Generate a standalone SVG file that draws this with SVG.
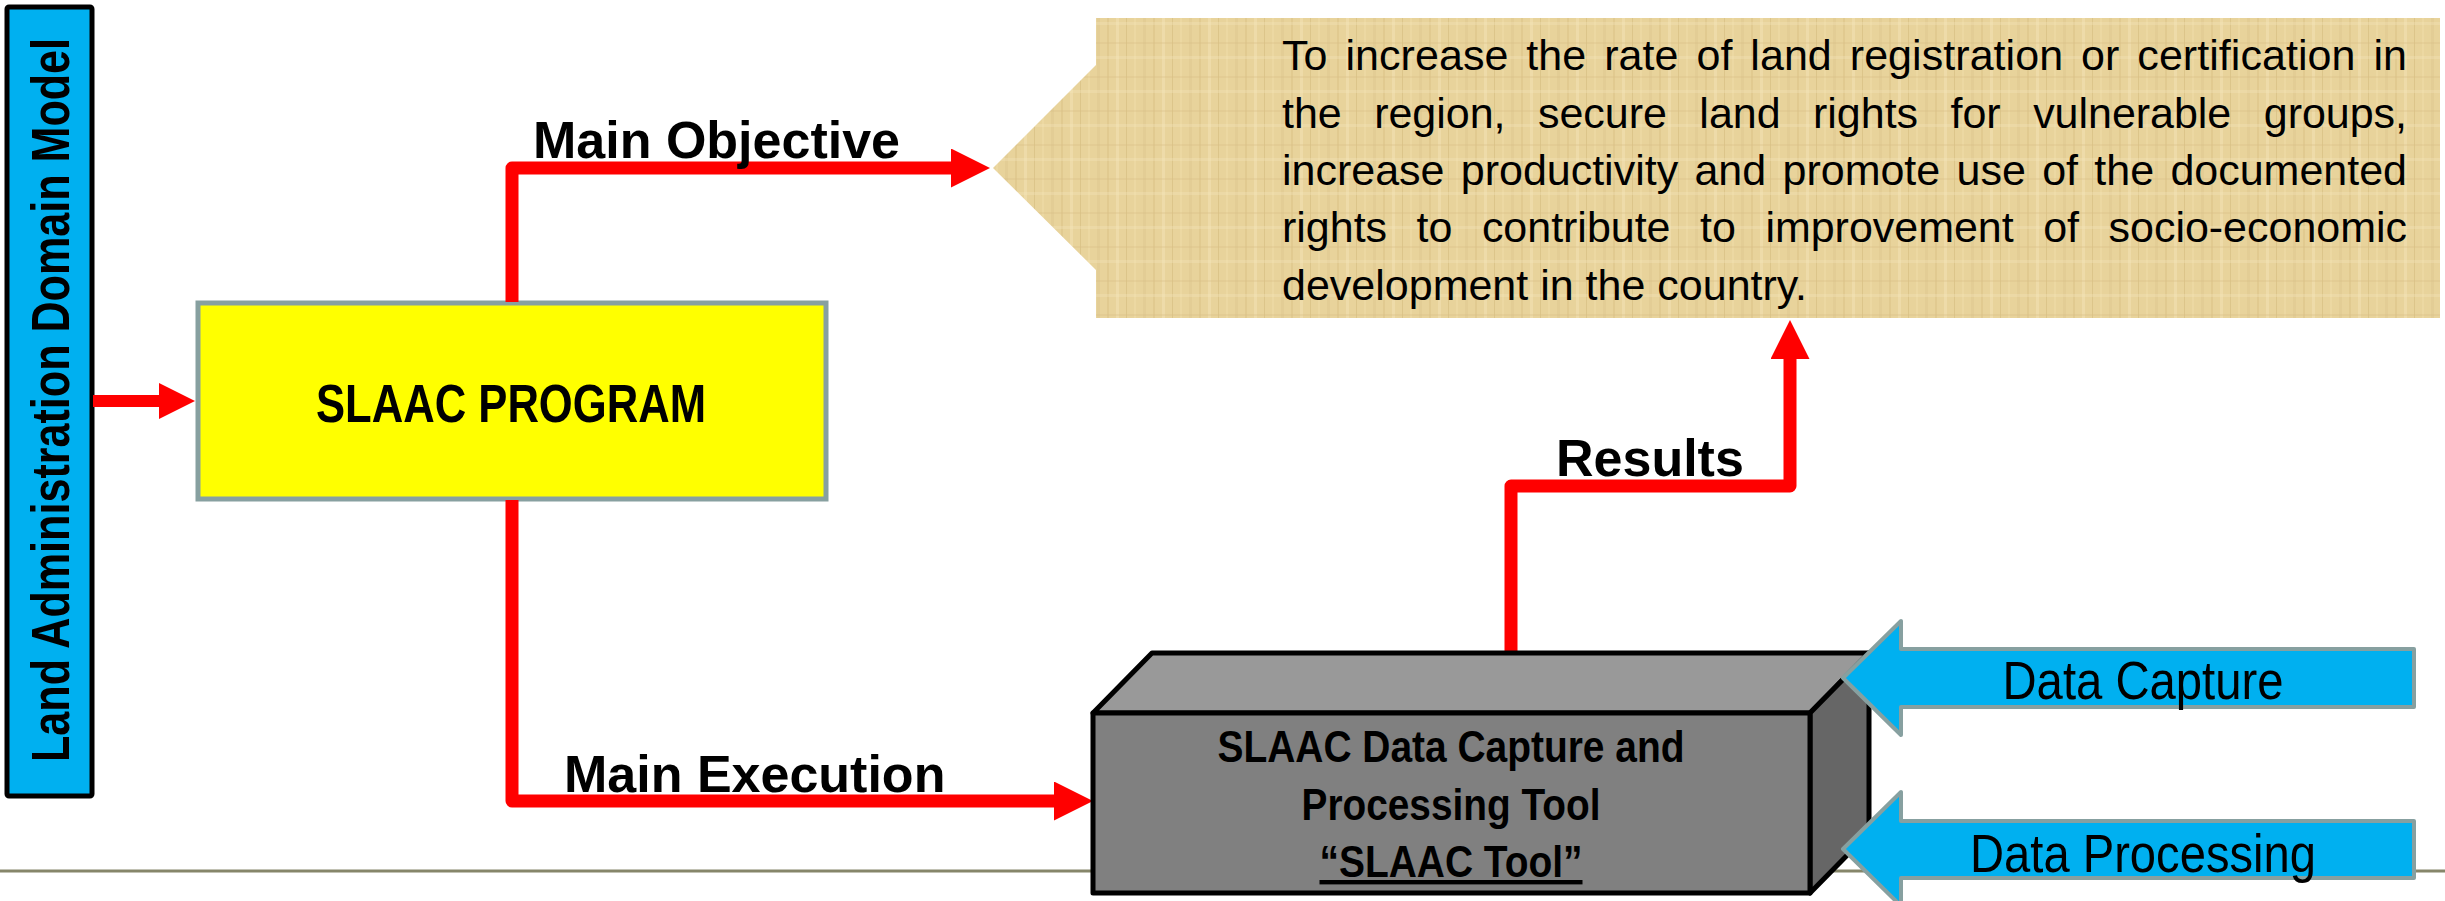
<svg xmlns="http://www.w3.org/2000/svg" width="2445" height="901" viewBox="0 0 2445 901">
<style>
text{font-family:"Liberation Sans",Arial,sans-serif;fill:#000}
.b{font-weight:bold}
.lbl{font-weight:bold;font-size:52px}
.con{fill:none;stroke:#FF0000;stroke-width:13;stroke-linejoin:round;marker-end:url(#ah)}
.para{font-size:43px}
.cyan{fill:#00B0F0;stroke:#87A0A0;stroke-width:4;stroke-linejoin:round}
.edge{stroke:#000;stroke-width:5;stroke-linejoin:round}
</style>
<defs>
<marker id="ah" viewBox="0 0 3 3" refX="0" refY="1.5" markerWidth="3" markerHeight="3" orient="auto" markerUnits="strokeWidth">
<path d="M0,0 L3,1.5 L0,3 z" fill="#FF0000"/>
</marker>
<pattern id="papyrus" width="46" height="34" patternUnits="userSpaceOnUse">
<rect width="46" height="34" fill="#E8D39B"/>
<rect x="3" width="2" height="34" fill="#D9BF82" opacity=".45"/>
<rect x="12" width="3" height="34" fill="#F2E2B4" opacity=".55"/>
<rect x="22" width="1" height="34" fill="#CFB475" opacity=".45"/>
<rect x="30" width="2" height="34" fill="#EFDDAA" opacity=".5"/>
<rect x="39" width="3" height="34" fill="#DCC48C" opacity=".4"/>
<rect y="8" width="46" height="2" fill="#D8BF84" opacity=".3"/>
<rect y="22" width="46" height="3" fill="#F3E4BA" opacity=".35"/>
</pattern>
</defs>
<rect width="2445" height="901" fill="#FFFFFF"/>
<line x1="0" y1="871" x2="2445" y2="871" stroke="#86866A" stroke-width="3"/>

<g id="ladm">
<rect x="7" y="7" width="85" height="789" rx="2" fill="#00B0F0" stroke="#000" stroke-width="5"/>
<text class="b" font-size="54" transform="translate(69,400) rotate(-90)" text-anchor="middle" textLength="724" lengthAdjust="spacingAndGlyphs">Land Administration Domain Model</text>
</g>

<g id="slaac-program">
<rect x="198" y="303" width="628" height="196" fill="#FFFF00" stroke="#87A0A0" stroke-width="5"/>
<text class="b" font-size="54" x="511" y="422" text-anchor="middle" textLength="390" lengthAdjust="spacingAndGlyphs">SLAAC PROGRAM</text>
</g>

<g id="objective">
<polygon points="1096,18 2440,18 2440,318 1096,318 1096,270 993,168 1096,65" fill="url(#papyrus)"/>
<text class="para" x="1282" y="70" word-spacing="5.9" textLength="1125" lengthAdjust="spacing">To increase the rate of land registration or certification in</text>
<text class="para" x="1282" y="128" word-spacing="20.6" textLength="1125" lengthAdjust="spacing">the region, secure land rights for vulnerable groups,</text>
<text class="para" x="1282" y="185" word-spacing="4.4" textLength="1125" lengthAdjust="spacing">increase productivity and promote use of the documented</text>
<text class="para" x="1282" y="242" word-spacing="17.6" textLength="1125" lengthAdjust="spacing">rights to contribute to improvement of socio-economic</text>
<text class="para" x="1282" y="300">development in the country.</text>
</g>

<g id="connectors">
<path d="M93,401 H159" stroke="#FF0000" stroke-width="12" fill="none" marker-end="url(#ah)"/>
<path class="con" d="M512,302 V168 H951"/>
<path class="con" d="M512,500 V801 H1054"/>
<path class="con" d="M1511,655 V486 H1790 V359"/>
<text class="lbl" x="533" y="158">Main Objective</text>
<text class="lbl" x="564" y="792">Main Execution</text>
<text class="lbl" x="1556" y="476">Results</text>
</g>

<g id="slaac-tool">
<polygon class="edge" points="1093,713 1152,653 1869,653 1810,713" fill="#999999"/>
<polygon class="edge" points="1810,713 1869,653 1869,833 1810,893" fill="#666666"/>
<rect class="edge" x="1093" y="713" width="717" height="180" fill="#808080"/>
<text class="b" font-size="44" x="1451" y="762" text-anchor="middle" textLength="467" lengthAdjust="spacingAndGlyphs">SLAAC Data Capture and</text>
<text class="b" font-size="44" x="1451" y="820" text-anchor="middle" textLength="299" lengthAdjust="spacingAndGlyphs">Processing Tool</text>
<text class="b" font-size="44" x="1451" y="877" text-anchor="middle" textLength="263" lengthAdjust="spacingAndGlyphs" text-decoration="underline">“SLAAC Tool”</text>
</g>

<g id="data-capture">
<polygon class="cyan" points="1843,678 1901,621 1901,649 2414,649 2414,707 1901,707 1901,735"/>
<text font-size="54" x="2143" y="699" text-anchor="middle" textLength="281" lengthAdjust="spacingAndGlyphs">Data Capture</text>
</g>

<g id="data-processing">
<polygon class="cyan" points="1843,849 1901,792 1901,821 2414,821 2414,878 1901,878 1901,906"/>
<text font-size="54" x="2143" y="872" text-anchor="middle" textLength="346" lengthAdjust="spacingAndGlyphs">Data Processing</text>
</g>
</svg>
